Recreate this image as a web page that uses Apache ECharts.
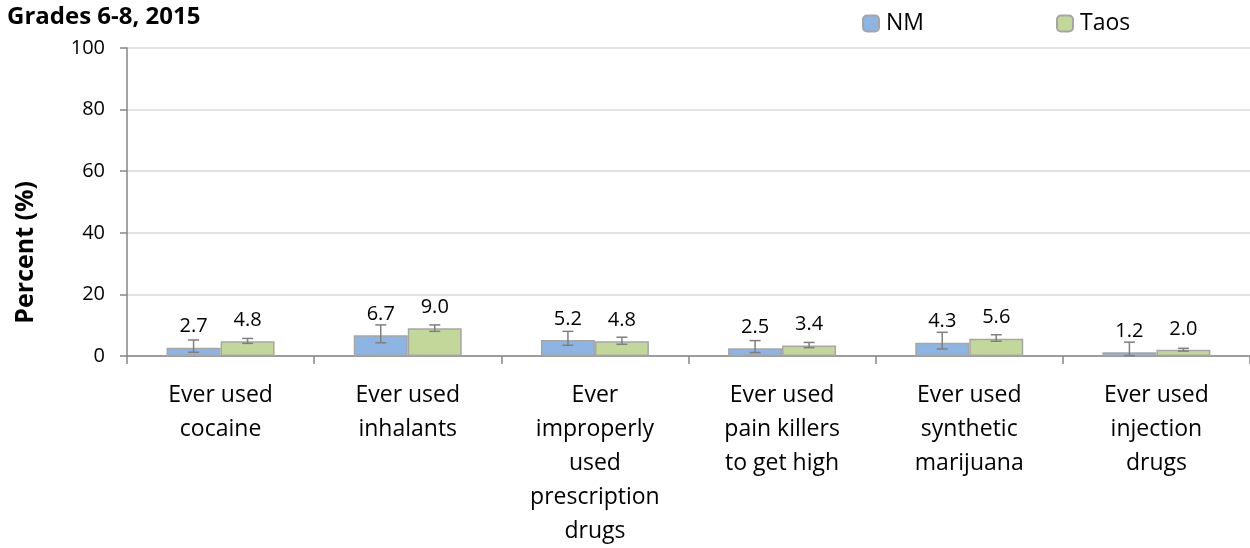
<!DOCTYPE html>
<html>
<head>
<meta charset="utf-8">
<script src="https://cdn.jsdelivr.net/npm/echarts@6/dist/echarts.min.js"></script>
<style>
html,body{margin:0;padding:0;background:#fff;}
#main{width:1250px;height:548px;}
</style>
</head>
<body>
<div id="main"></div>
<script>
var categories = ["Ever used\ncocaine", "Ever used\ninhalants", "Ever\nimproperly\nused\nprescription\ndrugs", "Ever used\npain killers\nto get high", "Ever used\nsynthetic\nmarijuana", "Ever used\ninjection\ndrugs"];
var nmValues = [2.7, 6.7, 5.2, 2.5, 4.3, 1.2];
var taosValues = [4.8, 9.0, 4.8, 3.4, 5.6, 2.0];
var nmLow = [1.2, 4.3, 3.5, 1.1, 2.3, 0.1];
var nmHigh = [5.2, 10.1, 8.0, 5.0, 7.7, 4.5];
var taosLow = [4.1, 8.0, 3.8, 2.7, 4.8, 1.6];
var taosHigh = [5.7, 10.1, 6.1, 4.4, 6.9, 2.5];
var yTicks = [0, 20, 40, 60, 80, 100];

var FONT = '"Open Sans", sans-serif';
var BAR_W = 54;

function errSeries(name, low, high, offset) {
  return {
    type: 'custom',
    name: name + ' CI',
    z: 5,
    silent: true,
    data: low.map(function (l, i) { return [i, l, high[i]]; }),
    renderItem: function (params, api) {
      var i = api.value(0);
      var lo = api.coord([i, api.value(1)]);
      var hi = api.coord([i, api.value(2)]);
      var x = lo[0] + offset;
      var cap = 5.5;
      var st = { stroke: '#7F7F7F', lineWidth: 1.5 };
      return {
        type: 'group',
        children: [
          { type: 'line', shape: { x1: x, y1: lo[1], x2: x, y2: hi[1] }, style: st },
          { type: 'line', shape: { x1: x - cap, y1: lo[1], x2: x + cap, y2: lo[1] }, style: st },
          { type: 'line', shape: { x1: x - cap, y1: hi[1], x2: x + cap, y2: hi[1] }, style: st }
        ]
      };
    },
    encode: { x: 0, y: [1, 2] }
  };
}

var chart = echarts.init(document.getElementById('main'), null, { renderer: 'canvas' });
var option = {
  animation: false,
  backgroundColor: '#fff',
  title: {
    text: 'Grades 6-8, 2015',
    left: 2, top: 0,
    textStyle: { fontFamily: FONT, fontSize: 24, fontWeight: 'bold', color: '#000' }
  },
  legend: {
    left: 857, top: 7,
    itemWidth: 16, itemHeight: 16, itemGap: 132,
    data: ['NM', 'Taos'],
    textStyle: { fontFamily: FONT, fontSize: 23, color: '#000', padding: [0, 0, 0, 2] }
  },
  graphic: [{
    type: 'text',
    left: 13, top: 181,
    style: { text: 'Percent (%)', font: 'bold 25px "Open Sans", sans-serif', fill: '#000' },
    rotation: Math.PI / 2,
    originX: 0, originY: 0
  }],
  grid: { left: 127, top: 48, right: -5, height: 309 },
  xAxis: {
    type: 'category',
    data: categories,
    axisLine: { lineStyle: { color: '#868686', width: 1.5 } },
    axisTick: { show: true, length: 8, alignWithLabel: false, lineStyle: { color: '#868686', width: 1.5 } },
    axisLabel: { fontFamily: FONT, fontSize: 23, color: '#000', lineHeight: 34, margin: 22, interval: 0 }
  },
  yAxis: {
    type: 'value',
    min: 0, max: 100, interval: 20,
    axisLine: { show: true, lineStyle: { color: '#868686', width: 1.5 } },
    axisTick: { show: true, length: 7, lineStyle: { color: '#868686', width: 1.5 } },
    splitLine: { lineStyle: { color: '#D9D9D9', width: 1.5 } },
    axisLabel: {
      fontFamily: FONT, fontSize: 20, color: '#000', margin: 22,
      formatter: function (v) { return yTicks.indexOf(v) >= 0 ? String(v) : ''; }
    }
  },
  series: [
    {
      name: 'NM', type: 'bar', data: nmValues, barWidth: BAR_W, barGap: '0%',
      itemStyle: { color: '#8DB4E2', borderColor: '#A6A6A6', borderWidth: 1.5 },
      label: { show: true, position: 'top', distance: 11, fontFamily: FONT, fontSize: 20, color: '#000',
        formatter: function (p) { return p.value.toFixed(1); } }
    },
    {
      name: 'Taos', type: 'bar', data: taosValues, barWidth: BAR_W,
      itemStyle: { color: '#C4D79B', borderColor: '#A6A6A6', borderWidth: 1.5 },
      label: { show: true, position: 'top', distance: 11, fontFamily: FONT, fontSize: 20, color: '#000',
        formatter: function (p) { return p.value.toFixed(1); } }
    },
    errSeries('NM', nmLow, nmHigh, -BAR_W / 2),
    errSeries('Taos', taosLow, taosHigh, BAR_W / 2)
  ]
};
chart.setOption(option);
</script>
</body>
</html>
